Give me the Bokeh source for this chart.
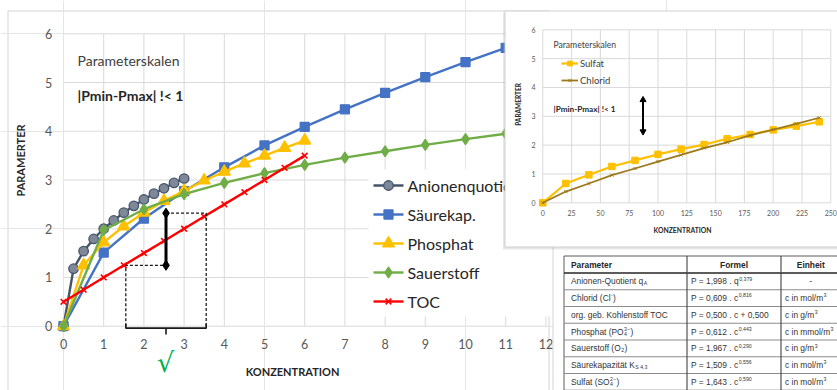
from math import pi

from bokeh.plotting import figure
from bokeh.models import Range1d, Legend, LegendItem
from bokeh.core.properties import value
from bokeh.embed import file_html
from bokeh.resources import INLINE

W, H = 837, 390

# ---------------- main chart: parameter scales ----------------
anion_x = [0, 0.25, 0.5, 0.75, 1, 1.25, 1.5, 1.75, 2, 2.25, 2.5, 2.75, 3]
anion_y = [0, 1.18, 1.54, 1.79, 2.0, 2.17, 2.33, 2.47, 2.6, 2.72, 2.83, 2.94, 3.03]

saeure_x = [0, 1, 2, 3, 4, 5, 6, 7, 8, 9, 10, 11, 12]
saeure_y = [0, 1.51, 2.21, 2.77, 3.26, 3.71, 4.09, 4.45, 4.79, 5.11, 5.42, 5.71, 6.0]

phosphat_x = [0, 0.5, 1, 1.5, 2, 2.5, 3, 3.5, 4, 4.5, 5, 5.5, 6]
phosphat_y = [0, 1.25, 1.72, 2.05, 2.33, 2.57, 2.78, 2.99, 3.17, 3.34, 3.5, 3.66, 3.81]

sauerstoff_x = [0, 1, 2, 3, 4, 5, 6, 7, 8, 9, 10, 11, 12]
sauerstoff_y = [0, 1.97, 2.4, 2.71, 2.94, 3.14, 3.31, 3.46, 3.59, 3.72, 3.84, 3.95, 4.05]

toc_x = [0, 0.5, 1, 1.5, 2, 2.5, 3, 3.5, 4, 4.5, 5, 5.5, 6]
toc_y = [0.5, 0.75, 1.0, 1.25, 1.5, 1.75, 2.0, 2.25, 2.5, 2.75, 3.0, 3.25, 3.5]

series_names = ["Anionenquotient", "S\u00e4urekap.", "Phosphat", "Sauerstoff", "TOC"]

main_xticks = [0, 1, 2, 3, 4, 5, 6, 7, 8, 9, 10, 11, 12]
main_yticks = [0, 1, 2, 3, 4, 5, 6]

# band |Pmin-Pmax| marked on the TOC line
band_x_lo, band_x_mid, band_x_hi = 1.55, 2.55, 3.55
band_y_lo, band_y_hi = 1.25, 2.32

# ---------------- inset chart: sulfate / chloride ----------------
inset_x = [0, 20, 40, 60, 80, 100, 120, 140, 160, 180, 200, 220, 240]
sulfat_y = [0, 0.67, 0.97, 1.26, 1.47, 1.68, 1.86, 2.02, 2.22, 2.37, 2.53, 2.66, 2.81]
chlorid_y = [0, 0.39, 0.67, 0.96, 1.19, 1.43, 1.66, 1.9, 2.1, 2.34, 2.54, 2.74, 2.95]

inset_xticks = [0, 25, 50, 75, 100, 125, 150, 175, 200, 225, 250]
inset_yticks = [0, 1, 2, 3, 4, 5, 6]
inset_arrow_x = 87
inset_arrow_y = (2.47, 3.57)

# ---------------- formula table ----------------
table_header = ["Parameter", "Formel", "Einheit"]
# each cell is a list of (text, kind); kind: n = normal, sup, sub, stack = (sub, sup)
table_params = [
    [("Anionen-Quotient q", "n"), ("A", "sub")],
    [("Chlorid (Cl", "n"), ("-", "sup"), (")", "n")],
    [("org. geb. Kohlenstoff TOC", "n")],
    [("Phosphat (PO", "n"), (("4", "3\u2212"), "stack"), (")", "n")],
    [("Sauerstoff (O", "n"), ("2", "sub"), (")", "n")],
    [("S\u00e4urekapazit\u00e4t K", "n"), ("S 4,3", "sub")],
    [("Sulfat (SO", "n"), (("4", "2\u2212"), "stack"), (")", "n")],
]
table_formulas = [
    [("P = 1,998 . q", "n"), ("0,379", "sup")],
    [("P = 0,609 . c", "n"), ("0,816", "sup")],
    [("P = 0,500 . c + 0,500", "n")],
    [("P = 0,612 . c", "n"), ("0,443", "sup")],
    [("P = 1,967 . c", "n"), ("0,290", "sup")],
    [("P = 1,509 . c", "n"), ("0,556", "sup")],
    [("P = 1,643 . c", "n"), ("0,590", "sup")],
]
table_units = [
    [("-", "n")],
    [("c in mol/m", "n"), ("3", "sup")],
    [("c in g/m", "n"), ("3", "sup")],
    [("c in mmol/m", "n"), ("3", "sup")],
    [("c in g/m", "n"), ("3", "sup")],
    [("c in mol/m", "n"), ("3", "sup")],
    [("c in mol/m", "n"), ("3", "sup")],
]

# ---------------- pixel geometry of the panels ----------------
MX0, MXU = 63.0, 40.2       # main chart: x=0 at px, px per unit
MY0, MYU = 325.7, 48.73     # main chart: y=0 at px (from top), px per unit
IX0, IXU = 542.3, 1.152     # inset chart
IY0, IYU = 202.3, 28.83

p = figure(width=W, height=H, min_border=0, toolbar_location=None,
           output_backend="svg", x_axis_location=None, y_axis_location=None,
           x_range=Range1d(-MX0 / MXU, (W - MX0) / MXU),
           y_range=Range1d(-(H - MY0) / MYU, MY0 / MYU))
p.outline_line_color = None
p.background_fill_color = "white"
p.border_fill_color = "white"
p.extra_x_ranges = {
    "ix": Range1d(-IX0 / IXU, (W - IX0) / IXU),
    "px": Range1d(0, W),
}
p.extra_y_ranges = {
    "iy": Range1d(-(H - IY0) / IYU, IY0 / IYU),
    "py": Range1d(H, 0),
}

FONT = "Lato"
GRID = "#D9D9D9"
TICK = "#595959"


def txt(x, y, s, size, color="#404040", font=FONT, style="normal", align="left",
        baseline="middle", angle=0.0, xr="px", yr="py", level="glyph"):
    p.text(x=x if isinstance(x, list) else [x], y=y if isinstance(y, list) else [y],
           text=s if isinstance(s, list) else [s],
           text_font=value(font), text_font_size=f"{size}px", text_font_style=style,
           text_color=color, text_align=align, text_baseline=baseline, angle=angle,
           x_range_name=xr, y_range_name=yr, level=level)


# ---- main chart frame and grid ----
p.quad(left=[7.5], right=[548.5], top=[10.5], bottom=[400], fill_color=None,
       line_color="#D4D4D4", line_width=1, x_range_name="px", y_range_name="py",
       level="underlay")
p.segment(x0=main_xticks, x1=main_xticks, y0=[main_yticks[0]] * len(main_xticks),
          y1=[main_yticks[-1]] * len(main_xticks), line_color=GRID, line_width=1,
          level="underlay")
p.segment(x0=[main_xticks[0]] * len(main_yticks), x1=[main_xticks[-1]] * len(main_yticks),
          y0=main_yticks, y1=main_yticks, line_color=GRID, line_width=1, level="underlay")

txt(main_xticks, [-0.375] * len(main_xticks), [str(t) for t in main_xticks], 12.5,
    color=TICK, align="center", xr="default", yr="default")
txt([-0.37] * len(main_yticks), main_yticks, [str(t) for t in main_yticks], 12.5,
    color=TICK, align="center", xr="default", yr="default")
txt(20, 160, "PARAMERTER", 11, color="#262626", style="bold", align="center", angle=pi / 2)
txt(292, 371, "KONZENTRATION", 11, color="#262626", style="bold", align="center")
txt(77, 60, "Parameterskalen", 14)
txt(77, 95, "|Pmin-Pmax| !< 1", 14, color="#262626", style="bold")

# ---- main series ----
series = [
    (anion_x, anion_y, "#44546A", "circle", 9.5, "#7F8898", "#44546A"),
    (saeure_x, saeure_y, "#4472C4", "square", 9, "#4472C4", "#4472C4"),
    (phosphat_x, phosphat_y, "#FFC000", "triangle", 12, "#FFC000", "#FFC000"),
    (sauerstoff_x, sauerstoff_y, "#70AD47", "diamond", 11, "#70AD47", "#70AD47"),
    (toc_x, toc_y, "#FF0000", "x", 8, "#FF0000", "#FF0000"),
]
for xs, ys, col, mk, sz, fill, edge in series:
    p.line(xs, ys, line_color=col, line_width=2.4)
    p.scatter(xs, ys, marker=mk, size=sz, fill_color=fill, line_color=edge,
              line_width=1.3 if mk != "x" else 1.6)

# ---- main legend (drawn as glyphs so that the inset panel can overlap it) ----
leg_left, leg_top, leg_pitch = 373, 185, 29.0
leg_rows = [leg_top + i * leg_pitch for i in range(len(series))]
p.quad(left=[leg_left - 5], right=[560], top=[leg_rows[0] - 16], bottom=[leg_rows[-1] + 15],
       fill_color="white", line_color=None, x_range_name="px", y_range_name="py")
for yrow, name, (xs, ys, col, mk, sz, fill, edge) in zip(leg_rows, series_names, series):
    p.line([leg_left, leg_left + 30], [yrow, yrow], line_color=col, line_width=2.4,
           x_range_name="px", y_range_name="py")
    p.scatter([leg_left + 15], [yrow], marker=mk, size=sz, fill_color=fill, line_color=edge,
              line_width=1.3 if mk != "x" else 1.6, x_range_name="px", y_range_name="py")
    txt(leg_left + 34, yrow, name, 16, color="#262626")

# ---- band marking on the TOC line ----
p.line([band_x_lo, band_x_lo, band_x_mid], [0, band_y_lo, band_y_lo],
       line_color="#1A1A1A", line_width=1.3, line_dash="3 2")
p.line([band_x_mid, band_x_hi, band_x_hi], [band_y_hi, band_y_hi, 0],
       line_color="#1A1A1A", line_width=1.3, line_dash="3 2")
p.line([band_x_lo, band_x_lo, band_x_hi, band_x_hi], [0.05, -0.04, -0.04, 0.05],
       line_color="#1A1A1A", line_width=1.6)
p.line([band_x_mid, band_x_mid], [-0.04, -0.17], line_color="#1A1A1A", line_width=1.6)
p.line([band_x_mid, band_x_mid], [band_y_lo, band_y_hi], line_color="black", line_width=3)
p.scatter([band_x_mid, band_x_mid], [band_y_lo, band_y_hi], marker="diamond", size=10,
          fill_color="black", line_color="black")
txt(165, 362, "\u221a", 27, color="#00B050", font="DejaVu Sans", align="center")

# ---- formula table ----
p.quad(left=[552.5], right=[850], top=[244.5], bottom=[400], fill_color="white",
       line_color="#D4D4D4", line_width=1, x_range_name="px", y_range_name="py")

ARIAL = {" ": .278, ",": .278, ".": .278, "=": .584, "+": .584, "-": .333, "/": .278,
         "(": .333, ")": .333, "i": .222, "l": .222, "t": .278, "f": .278, "r": .333,
         "c": .5, "s": .5, "k": .5, "z": .5, "m": .833, "A": .667, "P": .667, "K": .667,
         "S": .667, "Q": .778, "O": .778, "C": .722, "T": .611, "\u2212": .584}


def tw(s, size):
    return sum(ARIAL.get(ch, .556) for ch in s) * size


t_left, t_right = 563.5, 850
col_edges = [t_left, 686.5, 780.5, t_right]
t_top, head_h, row_h = 255.5, 17.0, 16.75
FS = 8.4
row_tops = [t_top + head_h + i * row_h for i in range(len(table_params) + 1)]

p.quad(left=[t_left], right=[t_right], top=[t_top], bottom=[row_tops[-1]], fill_color="white",
       line_color="#5A5A5A", line_width=1, x_range_name="px", y_range_name="py")
p.segment(x0=[t_left] * (len(row_tops) - 2), x1=[t_right] * (len(row_tops) - 2),
          y0=row_tops[1:-1], y1=row_tops[1:-1], line_color="#8C8C8C", line_width=1,
          x_range_name="px", y_range_name="py")
p.segment(x0=[t_left], x1=[t_right], y0=[row_tops[0]], y1=[row_tops[0]],
          line_color="#262626", line_width=1.6, x_range_name="px", y_range_name="py")
p.segment(x0=col_edges[1:3], x1=col_edges[1:3], y0=[t_top] * 2, y1=[row_tops[-1]] * 2,
          line_color="#404040", line_width=1.1, x_range_name="px", y_range_name="py")

hx = [col_edges[0] + 7, (col_edges[1] + col_edges[2]) / 2, (col_edges[2] + 840) / 2]
hy = t_top + head_h / 2
txt(hx[0], hy, table_header[0], FS, color="#262626", font="Liberation Sans", style="bold")
txt(hx[1:], [hy] * 2, table_header[1:], FS, color="#262626", font="Liberation Sans",
    style="bold", align="center")

cx, cy, ct, cs = [], [], [], []


def put_cell(x, yc, parts):
    for t, kind in parts:
        if kind == "n":
            cx.append(x); cy.append(yc); ct.append(t); cs.append(f"{FS}px")
            x += tw(t, FS)
        elif kind == "sup":
            f = FS * 0.62
            cx.append(x + 0.3); cy.append(yc - FS * 0.33); ct.append(t); cs.append(f"{f}px")
            x += tw(t, f) + 0.6
        elif kind == "sub":
            f = FS * 0.62
            cx.append(x + 0.3); cy.append(yc + FS * 0.25); ct.append(t); cs.append(f"{f}px")
            x += tw(t, f) + 0.6
        else:
            lo, hi = t
            f = FS * 0.62
            cx.append(x + 0.3); cy.append(yc + FS * 0.25); ct.append(lo); cs.append(f"{f}px")
            cx.append(x + 0.3); cy.append(yc - FS * 0.33); ct.append(hi); cs.append(f"{f}px")
            x += max(tw(lo, f), tw(hi, f)) + 0.8


for i in range(len(table_params)):
    yc = row_tops[i] + row_h / 2
    put_cell(col_edges[0] + 7, yc, table_params[i])
    put_cell(col_edges[1] + 4, yc, table_formulas[i])
    if table_units[i] == [("-", "n")]:
        put_cell(hx[2] - tw("-", FS) / 2, yc, table_units[i])
    else:
        put_cell(col_edges[2] + 4, yc, table_units[i])

p.text(x=cx, y=cy, text=ct, text_font_size=cs, text_font=value("Liberation Sans"),
       text_color="#333333", text_align="left", text_baseline="middle",
       x_range_name="px", y_range_name="py")

# ---- inset chart (drawn above the main chart) ----
LV = "annotation"
p.quad(left=[502.5], right=[850], top=[12], bottom=[249], fill_color="#A0A0A0", fill_alpha=0.25,
       line_color=None, x_range_name="px", y_range_name="py", level=LV)
p.quad(left=[504.5], right=[850], top=[10.5], bottom=[246.5], fill_color="white",
       line_color="#CFCFCF", line_width=1, x_range_name="px", y_range_name="py", level=LV)
p.segment(x0=inset_xticks, x1=inset_xticks, y0=[inset_yticks[0]] * len(inset_xticks),
          y1=[inset_yticks[-1]] * len(inset_xticks), line_color=GRID, line_width=1,
          x_range_name="ix", y_range_name="iy", level=LV)
p.segment(x0=[inset_xticks[0]] * len(inset_yticks), x1=[inset_xticks[-1]] * len(inset_yticks),
          y0=inset_yticks, y1=inset_yticks, line_color=GRID, line_width=1,
          x_range_name="ix", y_range_name="iy", level=LV)
txt(inset_xticks, [-0.37] * len(inset_xticks), [str(t) for t in inset_xticks], 7,
    color=TICK, align="center", xr="ix", yr="iy", level=LV)
txt([-8.0] * len(inset_yticks), inset_yticks, [str(t) for t in inset_yticks], 7,
    color=TICK, align="center", xr="ix", yr="iy", level=LV)
txt(518, 104, "PARAMERTER", 6.5, color="#262626", style="bold", align="center",
    angle=pi / 2, level=LV)
txt(682, 229, "KONZENTRATION", 6.8, color="#262626", style="bold", align="center", level=LV)
txt(553, 44, "Parameterskalen", 8.6, level=LV)
txt(553, 108, "|Pmin-Pmax| !< 1", 8.2, color="#262626", style="bold", level=LV)

l_s = p.line(inset_x, sulfat_y, line_color="#FFC000", line_width=2.2,
             x_range_name="ix", y_range_name="iy", level=LV)
m_s = p.scatter(inset_x, sulfat_y, marker="square", size=6.5, fill_color="#FFC000",
                line_color="#FFC000", x_range_name="ix", y_range_name="iy", level=LV)
l_c = p.line(inset_x, chlorid_y, line_color="#9C7A1C", line_width=1.8,
             x_range_name="ix", y_range_name="iy", level=LV)
m_c = p.scatter(inset_x, chlorid_y, marker="x", size=4.5, line_color="#9C7A1C", line_width=1,
                x_range_name="ix", y_range_name="iy", level=LV)

p.line([inset_arrow_x, inset_arrow_x], list(inset_arrow_y), line_color="black", line_width=2,
       x_range_name="ix", y_range_name="iy", level=LV)
p.scatter([inset_arrow_x], [inset_arrow_y[1]], marker="triangle", size=6, fill_color="black",
          line_color="black", x_range_name="ix", y_range_name="iy", level=LV)
p.scatter([inset_arrow_x], [inset_arrow_y[0]], marker="inverted_triangle", size=6,
          fill_color="black", line_color="black", x_range_name="ix", y_range_name="iy",
          level=LV)

# legend location: bottom-left corner, measured from the bottom-left of the canvas
inset_legend = Legend(items=[LegendItem(label="Sulfat", renderers=[l_s, m_s]),
                             LegendItem(label="Chlorid", renderers=[l_c, m_c])],
                      location=(561, H - 86), level="overlay",
                      label_text_font=FONT, label_text_font_size="9.5px",
                      label_text_color="#404040", glyph_width=17, glyph_height=12,
                      label_height=12, label_standoff=2, spacing=5, padding=0, margin=0,
                      background_fill_alpha=0, border_line_color=None)
p.add_layout(inset_legend)

open("out.html", "w").write(file_html(p, INLINE))
